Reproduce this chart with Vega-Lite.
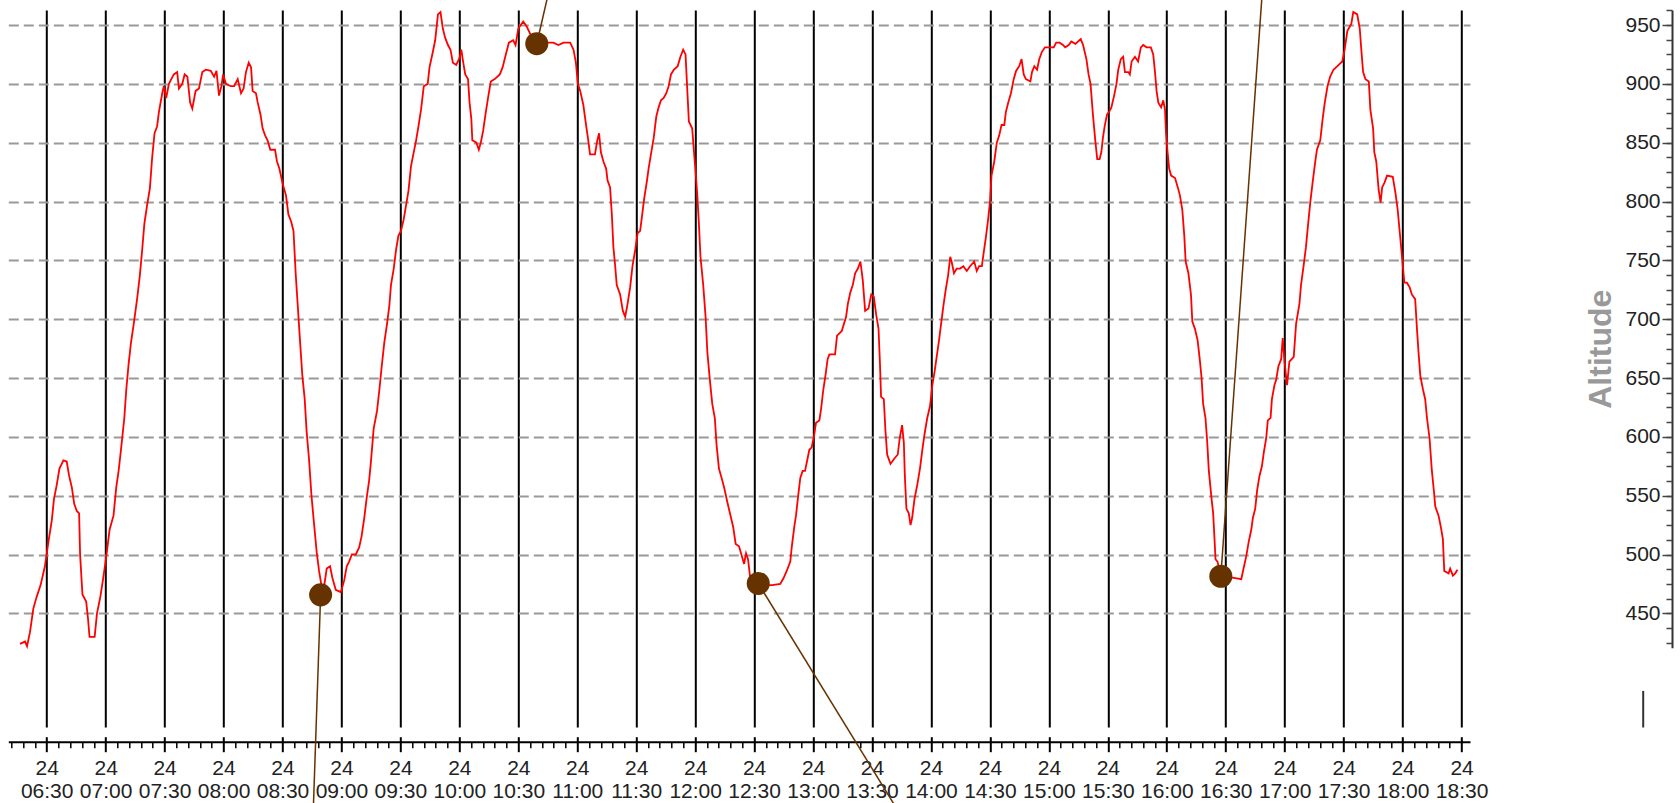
{
"$schema": "https://vega.github.io/schema/vega-lite/v6.json",
"autosize": {"type": "none"},
"width": 1461.7,
"height": 717,
"padding": {"left": 8.3, "top": 10, "right": 210, "bottom": 76},
"background": "white",
"config": {"view": {"stroke": null}, "axis": {"labelFont": "Liberation Sans", "titleFont": "Liberation Sans"}},
"datasets": {
"track": [
{"t":"2020-05-24T06:16:24","alt":424},{"t":"2020-05-24T06:19:00","alt":426},{"t":"2020-05-24T06:20:00","alt":422},{"t":"2020-05-24T06:21:30","alt":434},{"t":"2020-05-24T06:23:12","alt":454},{"t":"2020-05-24T06:24:54","alt":464},{"t":"2020-05-24T06:26:54","alt":474},{"t":"2020-05-24T06:29:06","alt":490},{"t":"2020-05-24T06:30:54","alt":511},{"t":"2020-05-24T06:32:36","alt":529},{"t":"2020-05-24T06:33:42","alt":547},{"t":"2020-05-24T06:35:06","alt":559},{"t":"2020-05-24T06:36:30","alt":573},{"t":"2020-05-24T06:38:30","alt":580},{"t":"2020-05-24T06:40:12","alt":579},{"t":"2020-05-24T06:41:24","alt":567},{"t":"2020-05-24T06:42:48","alt":557},{"t":"2020-05-24T06:44:00","alt":543},{"t":"2020-05-24T06:45:18","alt":537},{"t":"2020-05-24T06:46:30","alt":535},{"t":"2020-05-24T06:47:00","alt":500},{"t":"2020-05-24T06:48:12","alt":466},{"t":"2020-05-24T06:50:06","alt":460},{"t":"2020-05-24T06:51:00","alt":446},{"t":"2020-05-24T06:51:48","alt":430},{"t":"2020-05-24T06:54:24","alt":430},{"t":"2020-05-24T06:55:36","alt":450},{"t":"2020-05-24T06:57:18","alt":464},{"t":"2020-05-24T06:58:36","alt":478},{"t":"2020-05-24T07:00:18","alt":498},{"t":"2020-05-24T07:02:00","alt":521},{"t":"2020-05-24T07:04:00","alt":533},{"t":"2020-05-24T07:05:24","alt":557},{"t":"2020-05-24T07:06:36","alt":571},{"t":"2020-05-24T07:07:48","alt":589},{"t":"2020-05-24T07:09:30","alt":616},{"t":"2020-05-24T07:10:30","alt":640},{"t":"2020-05-24T07:11:42","alt":662},{"t":"2020-05-24T07:12:54","alt":680},{"t":"2020-05-24T07:14:18","alt":696},{"t":"2020-05-24T07:16:00","alt":717},{"t":"2020-05-24T07:17:24","alt":737},{"t":"2020-05-24T07:18:36","alt":759},{"t":"2020-05-24T07:19:42","alt":781},{"t":"2020-05-24T07:21:06","alt":797},{"t":"2020-05-24T07:22:30","alt":811},{"t":"2020-05-24T07:23:42","alt":838},{"t":"2020-05-24T07:24:54","alt":858},{"t":"2020-05-24T07:26:12","alt":864},{"t":"2020-05-24T07:27:06","alt":876},{"t":"2020-05-24T07:28:48","alt":892},{"t":"2020-05-24T07:29:36","alt":898},{"t":"2020-05-24T07:30:48","alt":888},{"t":"2020-05-24T07:32:12","alt":900},{"t":"2020-05-24T07:33:24","alt":904},{"t":"2020-05-24T07:34:42","alt":908},{"t":"2020-05-24T07:36:24","alt":910},{"t":"2020-05-24T07:37:18","alt":896},{"t":"2020-05-24T07:39:00","alt":900},{"t":"2020-05-24T07:40:12","alt":908},{"t":"2020-05-24T07:41:36","alt":906},{"t":"2020-05-24T07:43:00","alt":884},{"t":"2020-05-24T07:44:06","alt":879},{"t":"2020-05-24T07:45:48","alt":894},{"t":"2020-05-24T07:47:30","alt":896},{"t":"2020-05-24T07:49:12","alt":910},{"t":"2020-05-24T07:51:00","alt":912},{"t":"2020-05-24T07:53:30","alt":911},{"t":"2020-05-24T07:55:12","alt":906},{"t":"2020-05-24T07:56:24","alt":911},{"t":"2020-05-24T07:57:42","alt":890},{"t":"2020-05-24T07:58:54","alt":898},{"t":"2020-05-24T07:59:48","alt":908},{"t":"2020-05-24T08:01:12","alt":900},{"t":"2020-05-24T08:03:42","alt":898},{"t":"2020-05-24T08:05:24","alt":898},{"t":"2020-05-24T08:07:12","alt":904},{"t":"2020-05-24T08:08:54","alt":892},{"t":"2020-05-24T08:10:12","alt":896},{"t":"2020-05-24T08:11:24","alt":910},{"t":"2020-05-24T08:12:48","alt":918},{"t":"2020-05-24T08:14:00","alt":914},{"t":"2020-05-24T08:14:48","alt":894},{"t":"2020-05-24T08:16:30","alt":892},{"t":"2020-05-24T08:17:24","alt":884},{"t":"2020-05-24T08:18:48","alt":874},{"t":"2020-05-24T08:19:54","alt":862},{"t":"2020-05-24T08:21:12","alt":856},{"t":"2020-05-24T08:22:24","alt":852},{"t":"2020-05-24T08:23:48","alt":844},{"t":"2020-05-24T08:26:12","alt":844},{"t":"2020-05-24T08:27:12","alt":834},{"t":"2020-05-24T08:28:24","alt":828},{"t":"2020-05-24T08:30:06","alt":815},{"t":"2020-05-24T08:31:48","alt":805},{"t":"2020-05-24T08:33:00","alt":789},{"t":"2020-05-24T08:34:24","alt":783},{"t":"2020-05-24T08:35:36","alt":775},
{"t":"2020-05-24T08:36:42","alt":739},{"t":"2020-05-24T08:37:54","alt":708},{"t":"2020-05-24T08:38:54","alt":682},{"t":"2020-05-24T08:40:06","alt":652},{"t":"2020-05-24T08:41:18","alt":632},{"t":"2020-05-24T08:42:18","alt":604},{"t":"2020-05-24T08:43:30","alt":581},{"t":"2020-05-24T08:44:42","alt":551},{"t":"2020-05-24T08:46:00","alt":527},{"t":"2020-05-24T08:47:24","alt":502},{"t":"2020-05-24T08:48:36","alt":486},{"t":"2020-05-24T08:49:48","alt":474},{"t":"2020-05-24T08:51:06","alt":472},{"t":"2020-05-24T08:52:30","alt":488},{"t":"2020-05-24T08:54:12","alt":490},{"t":"2020-05-24T08:55:24","alt":480},{"t":"2020-05-24T08:57:06","alt":470},{"t":"2020-05-24T08:59:42","alt":468},{"t":"2020-05-24T09:01:24","alt":478},{"t":"2020-05-24T09:02:42","alt":490},{"t":"2020-05-24T09:03:54","alt":494},{"t":"2020-05-24T09:05:18","alt":500},{"t":"2020-05-24T09:07:18","alt":500},{"t":"2020-05-24T09:09:00","alt":506},{"t":"2020-05-24T09:10:12","alt":515},{"t":"2020-05-24T09:11:36","alt":531},{"t":"2020-05-24T09:12:54","alt":549},{"t":"2020-05-24T09:14:06","alt":563},{"t":"2020-05-24T09:15:00","alt":579},{"t":"2020-05-24T09:16:24","alt":607},{"t":"2020-05-24T09:18:06","alt":622},{"t":"2020-05-24T09:19:18","alt":640},{"t":"2020-05-24T09:20:30","alt":660},{"t":"2020-05-24T09:21:48","alt":680},{"t":"2020-05-24T09:23:12","alt":696},{"t":"2020-05-24T09:24:24","alt":712},{"t":"2020-05-24T09:25:12","alt":729},{"t":"2020-05-24T09:26:36","alt":743},{"t":"2020-05-24T09:27:48","alt":759},{"t":"2020-05-24T09:29:00","alt":771},{"t":"2020-05-24T09:30:18","alt":775},{"t":"2020-05-24T09:31:42","alt":785},{"t":"2020-05-24T09:32:54","alt":797},{"t":"2020-05-24T09:34:06","alt":809},{"t":"2020-05-24T09:35:24","alt":830},{"t":"2020-05-24T09:36:48","alt":842},{"t":"2020-05-24T09:38:00","alt":852},{"t":"2020-05-24T09:39:12","alt":864},{"t":"2020-05-24T09:40:30","alt":878},{"t":"2020-05-24T09:41:54","alt":898},{"t":"2020-05-24T09:43:54","alt":900},{"t":"2020-05-24T09:44:48","alt":914},{"t":"2020-05-24T09:46:30","alt":927},{"t":"2020-05-24T09:47:42","alt":937},{"t":"2020-05-24T09:49:06","alt":959},{"t":"2020-05-24T09:50:24","alt":961},{"t":"2020-05-24T09:51:36","alt":947},{"t":"2020-05-24T09:52:48","alt":939},{"t":"2020-05-24T09:54:12","alt":933},{"t":"2020-05-24T09:55:30","alt":929},{"t":"2020-05-24T09:56:42","alt":918},{"t":"2020-05-24T09:58:24","alt":916},{"t":"2020-05-24T10:00:06","alt":922},{"t":"2020-05-24T10:01:00","alt":929},{"t":"2020-05-24T10:01:48","alt":920},{"t":"2020-05-24T10:03:00","alt":908},{"t":"2020-05-24T10:04:24","alt":904},{"t":"2020-05-24T10:05:12","alt":884},{"t":"2020-05-24T10:06:06","alt":870},{"t":"2020-05-24T10:06:36","alt":852},{"t":"2020-05-24T10:08:42","alt":850},{"t":"2020-05-24T10:09:54","alt":844},{"t":"2020-05-24T10:10:54","alt":850},{"t":"2020-05-24T10:12:06","alt":860},{"t":"2020-05-24T10:13:18","alt":874},{"t":"2020-05-24T10:14:36","alt":888},{"t":"2020-05-24T10:16:00","alt":902},{"t":"2020-05-24T10:18:00","alt":904},{"t":"2020-05-24T10:20:36","alt":908},{"t":"2020-05-24T10:22:00","alt":914},{"t":"2020-05-24T10:23:12","alt":922},{"t":"2020-05-24T10:25:12","alt":935},{"t":"2020-05-24T10:27:24","alt":937},{"t":"2020-05-24T10:28:36","alt":933},{"t":"2020-05-24T10:30:00","alt":947},{"t":"2020-05-24T10:32:30","alt":953},{"t":"2020-05-24T10:34:12","alt":949},{"t":"2020-05-24T10:35:54","alt":943},{"t":"2020-05-24T10:38:00","alt":936},{"t":"2020-05-24T10:40:12","alt":935},{"t":"2020-05-24T10:47:48","alt":935},{"t":"2020-05-24T10:50:24","alt":933},{"t":"2020-05-24T10:53:00","alt":935},{"t":"2020-05-24T10:56:24","alt":935},{"t":"2020-05-24T10:58:06","alt":929},{"t":"2020-05-24T10:59:18","alt":918},{"t":"2020-05-24T11:00:18","alt":900},{"t":"2020-05-24T11:01:30","alt":894},
{"t":"2020-05-24T11:03:06","alt":882},{"t":"2020-05-24T11:04:24","alt":866},{"t":"2020-05-24T11:05:36","alt":852},{"t":"2020-05-24T11:06:30","alt":840},{"t":"2020-05-24T11:09:00","alt":840},{"t":"2020-05-24T11:10:12","alt":852},{"t":"2020-05-24T11:11:06","alt":858},{"t":"2020-05-24T11:12:00","alt":842},{"t":"2020-05-24T11:13:18","alt":834},{"t":"2020-05-24T11:14:42","alt":828},{"t":"2020-05-24T11:15:24","alt":818},{"t":"2020-05-24T11:16:42","alt":812},{"t":"2020-05-24T11:17:36","alt":789},{"t":"2020-05-24T11:18:24","alt":761},{"t":"2020-05-24T11:19:18","alt":745},{"t":"2020-05-24T11:20:06","alt":729},{"t":"2020-05-24T11:21:48","alt":721},{"t":"2020-05-24T11:23:12","alt":707},{"t":"2020-05-24T11:24:24","alt":702},{"t":"2020-05-24T11:25:36","alt":713},{"t":"2020-05-24T11:26:54","alt":727},{"t":"2020-05-24T11:28:06","alt":745},{"t":"2020-05-24T11:29:30","alt":759},{"t":"2020-05-24T11:30:42","alt":773},{"t":"2020-05-24T11:32:00","alt":775},{"t":"2020-05-24T11:32:54","alt":787},{"t":"2020-05-24T11:34:06","alt":803},{"t":"2020-05-24T11:35:30","alt":818},{"t":"2020-05-24T11:36:18","alt":828},{"t":"2020-05-24T11:37:30","alt":840},{"t":"2020-05-24T11:38:54","alt":854},{"t":"2020-05-24T11:40:12","alt":872},{"t":"2020-05-24T11:41:24","alt":880},{"t":"2020-05-24T11:42:36","alt":886},{"t":"2020-05-24T11:44:00","alt":888},{"t":"2020-05-24T11:45:18","alt":892},{"t":"2020-05-24T11:46:30","alt":898},{"t":"2020-05-24T11:47:42","alt":908},{"t":"2020-05-24T11:49:06","alt":912},{"t":"2020-05-24T11:51:06","alt":915},{"t":"2020-05-24T11:52:30","alt":923},{"t":"2020-05-24T11:53:54","alt":929},{"t":"2020-05-24T11:55:06","alt":925},{"t":"2020-05-24T11:55:54","alt":898},{"t":"2020-05-24T11:56:48","alt":868},{"t":"2020-05-24T11:58:30","alt":862},{"t":"2020-05-24T11:59:24","alt":842},{"t":"2020-05-24T12:00:12","alt":826},{"t":"2020-05-24T12:01:06","alt":805},{"t":"2020-05-24T12:01:54","alt":781},{"t":"2020-05-24T12:02:42","alt":753},{"t":"2020-05-24T12:04:06","alt":729},{"t":"2020-05-24T12:05:18","alt":702},{"t":"2020-05-24T12:06:12","alt":672},{"t":"2020-05-24T12:07:30","alt":648},{"t":"2020-05-24T12:08:42","alt":628},{"t":"2020-05-24T12:10:00","alt":616},{"t":"2020-05-24T12:10:54","alt":593},{"t":"2020-05-24T12:12:06","alt":573},{"t":"2020-05-24T12:13:48","alt":563},{"t":"2020-05-24T12:15:00","alt":555},{"t":"2020-05-24T12:16:18","alt":545},{"t":"2020-05-24T12:17:42","alt":535},{"t":"2020-05-24T12:19:24","alt":523},{"t":"2020-05-24T12:20:36","alt":509},{"t":"2020-05-24T12:22:18","alt":507},{"t":"2020-05-24T12:23:42","alt":499},{"t":"2020-05-24T12:24:54","alt":492},{"t":"2020-05-24T12:25:54","alt":501},{"t":"2020-05-24T12:26:54","alt":496},{"t":"2020-05-24T12:28:00","alt":480},{"t":"2020-05-24T12:30:00","alt":475},{"t":"2020-05-24T12:32:06","alt":475},{"t":"2020-05-24T12:36:00","alt":474},{"t":"2020-05-24T12:39:18","alt":474},{"t":"2020-05-24T12:43:18","alt":475},{"t":"2020-05-24T12:45:00","alt":480},{"t":"2020-05-24T12:46:36","alt":486},{"t":"2020-05-24T12:48:24","alt":494},{"t":"2020-05-24T12:49:12","alt":507},{"t":"2020-05-24T12:50:24","alt":523},{"t":"2020-05-24T12:51:18","alt":533},{"t":"2020-05-24T12:52:30","alt":551},{"t":"2020-05-24T12:53:30","alt":565},{"t":"2020-05-24T12:54:42","alt":571},{"t":"2020-05-24T12:55:54","alt":571},{"t":"2020-05-24T12:56:54","alt":579},{"t":"2020-05-24T12:58:06","alt":589},{"t":"2020-05-24T12:59:18","alt":591},{"t":"2020-05-24T13:00:36","alt":602},{"t":"2020-05-24T13:01:30","alt":612},{"t":"2020-05-24T13:03:12","alt":614},{"t":"2020-05-24T13:04:06","alt":624},{"t":"2020-05-24T13:05:12","alt":640},{"t":"2020-05-24T13:06:18","alt":652},{"t":"2020-05-24T13:07:24","alt":666},{"t":"2020-05-24T13:08:18","alt":670},{"t":"2020-05-24T13:11:12","alt":670},{"t":"2020-05-24T13:12:12","alt":686},{"t":"2020-05-24T13:13:24","alt":688},{"t":"2020-05-24T13:14:36","alt":690},{"t":"2020-05-24T13:15:42","alt":696},{"t":"2020-05-24T13:16:48","alt":702},{"t":"2020-05-24T13:17:42","alt":713},{"t":"2020-05-24T13:19:00","alt":723},{"t":"2020-05-24T13:20:12","alt":729},{"t":"2020-05-24T13:21:24","alt":739},{"t":"2020-05-24T13:22:48","alt":743},{"t":"2020-05-24T13:24:06","alt":749},{"t":"2020-05-24T13:25:18","alt":733},{"t":"2020-05-24T13:26:30","alt":707},{"t":"2020-05-24T13:28:12","alt":709},{"t":"2020-05-24T13:29:36","alt":721},{"t":"2020-05-24T13:30:54","alt":719},{"t":"2020-05-24T13:32:06","alt":704},{"t":"2020-05-24T13:33:18","alt":692},{"t":"2020-05-24T13:34:00","alt":664},{"t":"2020-05-24T13:34:36","alt":634},{"t":"2020-05-24T13:36:00","alt":632},{"t":"2020-05-24T13:36:48","alt":606},{"t":"2020-05-24T13:37:42","alt":585},{"t":"2020-05-24T13:39:24","alt":577},{"t":"2020-05-24T13:41:06","alt":581},{"t":"2020-05-24T13:43:06","alt":585},{"t":"2020-05-24T13:44:06","alt":599},{"t":"2020-05-24T13:45:18","alt":610},{"t":"2020-05-24T13:46:12","alt":595},{"t":"2020-05-24T13:46:42","alt":567},{"t":"2020-05-24T13:47:30","alt":539},{"t":"2020-05-24T13:48:42","alt":535},{"t":"2020-05-24T13:49:36","alt":525},{"t":"2020-05-24T13:50:24","alt":531},{"t":"2020-05-24T13:51:36","alt":547},{"t":"2020-05-24T13:53:00","alt":559},{"t":"2020-05-24T13:54:24","alt":573},{"t":"2020-05-24T13:55:36","alt":589},{"t":"2020-05-24T13:56:42","alt":602},{"t":"2020-05-24T13:58:06","alt":616},{"t":"2020-05-24T13:59:30","alt":626},{"t":"2020-05-24T14:00:42","alt":644},{"t":"2020-05-24T14:01:54","alt":656},{"t":"2020-05-24T14:02:54","alt":668},{"t":"2020-05-24T14:04:06","alt":682},{"t":"2020-05-24T14:05:00","alt":694},{"t":"2020-05-24T14:06:18","alt":711},{"t":"2020-05-24T14:07:30","alt":725},{"t":"2020-05-24T14:08:42","alt":737},{"t":"2020-05-24T14:09:48","alt":753},{"t":"2020-05-24T14:10:30","alt":749},{"t":"2020-05-24T14:11:42","alt":739},{"t":"2020-05-24T14:13:06","alt":743},{"t":"2020-05-24T14:14:48","alt":743},{"t":"2020-05-24T14:16:30","alt":745},{"t":"2020-05-24T14:18:12","alt":741},{"t":"2020-05-24T14:19:54","alt":745},{"t":"2020-05-24T14:22:00","alt":749},{"t":"2020-05-24T14:23:18","alt":741},{"t":"2020-05-24T14:24:30","alt":745},{"t":"2020-05-24T14:25:54","alt":745},{"t":"2020-05-24T14:26:42","alt":755},{"t":"2020-05-24T14:27:54","alt":769},{"t":"2020-05-24T14:29:06","alt":785},{"t":"2020-05-24T14:30:06","alt":801},{"t":"2020-05-24T14:30:48","alt":822},{"t":"2020-05-24T14:32:12","alt":834},{"t":"2020-05-24T14:33:30","alt":850},{"t":"2020-05-24T14:34:42","alt":856},{"t":"2020-05-24T14:35:54","alt":865},{"t":"2020-05-24T14:37:18","alt":865},{"t":"2020-05-24T14:38:06","alt":876},{"t":"2020-05-24T14:39:18","alt":884},{"t":"2020-05-24T14:40:42","alt":892},{"t":"2020-05-24T14:42:06","alt":904},{"t":"2020-05-24T14:43:18","alt":911},{"t":"2020-05-24T14:44:54","alt":915},{"t":"2020-05-24T14:46:06","alt":921},{"t":"2020-05-24T14:47:12","alt":908},{"t":"2020-05-24T14:48:18","alt":904},{"t":"2020-05-24T14:50:36","alt":902},{"t":"2020-05-24T14:51:24","alt":910},{"t":"2020-05-24T14:52:36","alt":915},{"t":"2020-05-24T14:54:00","alt":912},{"t":"2020-05-24T14:55:06","alt":921},{"t":"2020-05-24T14:56:24","alt":927},{"t":"2020-05-24T14:58:00","alt":931},{"t":"2020-05-24T15:00:18","alt":931},{"t":"2020-05-24T15:02:30","alt":931},{"t":"2020-05-24T15:03:42","alt":935},{"t":"2020-05-24T15:05:24","alt":935},{"t":"2020-05-24T15:07:12","alt":933},{"t":"2020-05-24T15:08:18","alt":931},{"t":"2020-05-24T15:10:06","alt":933},{"t":"2020-05-24T15:11:24","alt":936},{"t":"2020-05-24T15:13:30","alt":934},{"t":"2020-05-24T15:16:12","alt":938},{"t":"2020-05-24T15:17:24","alt":933},{"t":"2020-05-24T15:19:06","alt":921},{"t":"2020-05-24T15:20:12","alt":908},{"t":"2020-05-24T15:21:12","alt":900},{"t":"2020-05-24T15:22:24","alt":874},{"t":"2020-05-24T15:23:36","alt":852},{"t":"2020-05-24T15:24:36","alt":836},{"t":"2020-05-24T15:25:48","alt":836},{"t":"2020-05-24T15:26:42","alt":842},{"t":"2020-05-24T15:27:30","alt":854},{"t":"2020-05-24T15:28:24","alt":864},{"t":"2020-05-24T15:29:36","alt":874},{"t":"2020-05-24T15:30:36","alt":876},{"t":"2020-05-24T15:31:48","alt":880},{"t":"2020-05-24T15:33:12","alt":890},{"t":"2020-05-24T15:34:24","alt":900},{"t":"2020-05-24T15:35:18","alt":912},{"t":"2020-05-24T15:36:36","alt":921},{"t":"2020-05-24T15:37:48","alt":923},{"t":"2020-05-24T15:38:42","alt":910},{"t":"2020-05-24T15:40:24","alt":910},{"t":"2020-05-24T15:41:12","alt":908},{"t":"2020-05-24T15:42:06","alt":919},{"t":"2020-05-24T15:43:48","alt":923},{"t":"2020-05-24T15:45:24","alt":919},{"t":"2020-05-24T15:46:48","alt":931},{"t":"2020-05-24T15:48:00","alt":933},{"t":"2020-05-24T15:49:42","alt":931},{"t":"2020-05-24T15:51:54","alt":931},{"t":"2020-05-24T15:53:06","alt":925},{"t":"2020-05-24T15:54:00","alt":910},{"t":"2020-05-24T15:54:48","alt":894},{"t":"2020-05-24T15:55:42","alt":884},{"t":"2020-05-24T15:57:06","alt":880},{"t":"2020-05-24T15:58:12","alt":886},{"t":"2020-05-24T15:59:06","alt":878},{"t":"2020-05-24T15:59:36","alt":858},{"t":"2020-05-24T16:00:24","alt":842},{"t":"2020-05-24T16:01:12","alt":828},{"t":"2020-05-24T16:02:12","alt":822},{"t":"2020-05-24T16:04:12","alt":820},{"t":"2020-05-24T16:05:36","alt":812},{"t":"2020-05-24T16:06:42","alt":805},{"t":"2020-05-24T16:07:54","alt":793},{"t":"2020-05-24T16:08:54","alt":771},{"t":"2020-05-24T16:09:36","alt":749},{"t":"2020-05-24T16:11:00","alt":739},{"t":"2020-05-24T16:12:18","alt":721},{"t":"2020-05-24T16:13:00","alt":698},{"t":"2020-05-24T16:14:18","alt":692},{"t":"2020-05-24T16:15:42","alt":682},{"t":"2020-05-24T16:16:54","alt":664},{"t":"2020-05-24T16:17:42","alt":650},{"t":"2020-05-24T16:18:30","alt":628},{"t":"2020-05-24T16:19:42","alt":616},{"t":"2020-05-24T16:20:36","alt":595},{"t":"2020-05-24T16:21:24","alt":571},{"t":"2020-05-24T16:22:48","alt":547},{"t":"2020-05-24T16:23:36","alt":535},{"t":"2020-05-24T16:24:06","alt":519},{"t":"2020-05-24T16:24:48","alt":496},{"t":"2020-05-24T16:25:48","alt":494},{"t":"2020-05-24T16:27:30","alt":482},{"t":"2020-05-24T16:31:00","alt":481},{"t":"2020-05-24T16:34:54","alt":480},{"t":"2020-05-24T16:37:54","alt":479},{"t":"2020-05-24T16:39:18","alt":490},{"t":"2020-05-24T16:40:30","alt":499},{"t":"2020-05-24T16:41:42","alt":511},{"t":"2020-05-24T16:43:00","alt":521},{"t":"2020-05-24T16:43:48","alt":531},{"t":"2020-05-24T16:45:00","alt":539},{"t":"2020-05-24T16:46:00","alt":555},{"t":"2020-05-24T16:47:12","alt":567},{"t":"2020-05-24T16:48:24","alt":575},{"t":"2020-05-24T16:49:24","alt":587},{"t":"2020-05-24T16:50:36","alt":599},{"t":"2020-05-24T16:51:24","alt":614},{"t":"2020-05-24T16:52:48","alt":616},{"t":"2020-05-24T16:53:30","alt":632},{"t":"2020-05-24T16:54:48","alt":644},{"t":"2020-05-24T16:55:36","alt":648},{"t":"2020-05-24T16:56:48","alt":660},{"t":"2020-05-24T16:58:12","alt":666},{"t":"2020-05-24T16:59:00","alt":684},{"t":"2020-05-24T16:59:54","alt":664},{"t":"2020-05-24T17:01:12","alt":644},{"t":"2020-05-24T17:02:24","alt":664},{"t":"2020-05-24T17:04:36","alt":668},{"t":"2020-05-24T17:05:48","alt":696},{"t":"2020-05-24T17:07:30","alt":713},{"t":"2020-05-24T17:08:18","alt":729},{"t":"2020-05-24T17:09:36","alt":745},{"t":"2020-05-24T17:10:48","alt":761},{"t":"2020-05-24T17:11:42","alt":777},{"t":"2020-05-24T17:13:00","alt":799},{"t":"2020-05-24T17:14:12","alt":816},{"t":"2020-05-24T17:15:24","alt":832},{"t":"2020-05-24T17:16:24","alt":844},{"t":"2020-05-24T17:18:06","alt":852},{"t":"2020-05-24T17:19:18","alt":870},{"t":"2020-05-24T17:20:24","alt":884},{"t":"2020-05-24T17:21:48","alt":898},{"t":"2020-05-24T17:23:06","alt":906},{"t":"2020-05-24T17:24:48","alt":912},{"t":"2020-05-24T17:26:48","alt":915},{"t":"2020-05-24T17:29:18","alt":919},{"t":"2020-05-24T17:30:30","alt":929},{"t":"2020-05-24T17:31:54","alt":945},{"t":"2020-05-24T17:33:54","alt":951},{"t":"2020-05-24T17:34:54","alt":961},{"t":"2020-05-24T17:36:54","alt":959},{"t":"2020-05-24T17:38:12","alt":947},{"t":"2020-05-24T17:38:54","alt":931},{"t":"2020-05-24T17:39:54","alt":910},{"t":"2020-05-24T17:41:06","alt":904},{"t":"2020-05-24T17:42:48","alt":902},{"t":"2020-05-24T17:43:36","alt":878},{"t":"2020-05-24T17:45:00","alt":862},{"t":"2020-05-24T17:45:36","alt":842},{"t":"2020-05-24T17:46:36","alt":834},{"t":"2020-05-24T17:47:48","alt":810},{"t":"2020-05-24T17:48:48","alt":799},{"t":"2020-05-24T17:49:36","alt":812},{"t":"2020-05-24T17:50:48","alt":816},{"t":"2020-05-24T17:52:06","alt":822},{"t":"2020-05-24T17:55:00","alt":821},{"t":"2020-05-24T17:56:24","alt":807},{"t":"2020-05-24T17:57:30","alt":793},{"t":"2020-05-24T17:58:36","alt":773},{"t":"2020-05-24T17:59:42","alt":753},{"t":"2020-05-24T18:00:54","alt":731},{"t":"2020-05-24T18:02:12","alt":731},{"t":"2020-05-24T18:03:36","alt":727},{"t":"2020-05-24T18:04:42","alt":721},{"t":"2020-05-24T18:06:24","alt":717},{"t":"2020-05-24T18:07:18","alt":692},{"t":"2020-05-24T18:08:06","alt":672},{"t":"2020-05-24T18:09:00","alt":652},{"t":"2020-05-24T18:10:24","alt":640},{"t":"2020-05-24T18:11:30","alt":632},{"t":"2020-05-24T18:12:24","alt":616},{"t":"2020-05-24T18:13:42","alt":599},{"t":"2020-05-24T18:14:54","alt":571},{"t":"2020-05-24T18:16:06","alt":551},{"t":"2020-05-24T18:16:36","alt":541},{"t":"2020-05-24T18:18:18","alt":533},{"t":"2020-05-24T18:19:30","alt":523},{"t":"2020-05-24T18:20:30","alt":513},{"t":"2020-05-24T18:21:12","alt":486},{"t":"2020-05-24T18:23:24","alt":484},{"t":"2020-05-24T18:24:12","alt":488},{"t":"2020-05-24T18:25:36","alt":482},{"t":"2020-05-24T18:26:48","alt":484},{"t":"2020-05-24T18:27:54","alt":487}
],
"waypoints": [
{"t":"2020-05-24T08:49:24","alt":465.7,"t2":"2020-05-24T08:45:00","alt2":250},
{"t":"2020-05-24T10:39:24","alt":934.1,"t2":"2020-05-24T10:47:06","alt2":990},
{"t":"2020-05-24T12:32:06","alt":475.4,"t2":"2020-05-24T13:55:06","alt2":250},
{"t":"2020-05-24T16:27:30","alt":481.5,"t2":"2020-05-24T16:49:06","alt2":990}
]
},
"resolve": {"axis": {"x": "independent", "y": "independent"}},
"layer": [
{
"data": {"name": "track"},
"mark": {"type": "line", "color": "#ff0000", "strokeWidth": 1.8},
"encoding": {
"x": {"field": "t", "type": "temporal",
"scale": {"type": "time", "nice": false, "domain": [{"year": 2020, "month": 5, "date": 24, "hours": 6, "minutes": 10, "seconds": 28}, {"year": 2020, "month": 5, "date": 24, "hours": 18, "minutes": 34, "seconds": 18}]},
"axis": {"orient": "bottom", "offset": 14.7, "title": null, "tickCount": 25,
"grid": true, "gridColor": "#000000", "gridWidth": 2, "gridOpacity": 1,
"domain": true, "domainColor": "#000000", "domainWidth": 2,
"ticks": true, "tickSize": 10, "tickColor": "#000000", "tickWidth": 2,
"labelExpr": "[timeFormat(datum.value, '%d'), timeFormat(datum.value, '%H:%M')]",
"labelFontSize": 21, "labelLineHeight": 23.4, "labelPadding": 5.5, "labelColor": "#222222",
"labelOverlap": false, "labelFlush": false}},
"y": {"field": "alt", "type": "quantitative",
"scale": {"domain": [353.4, 962.75], "nice": false, "zero": false},
"axis": {"orient": "left", "offset": -1663.7, "values": [450, 500, 550, 600, 650, 700, 750, 800, 850, 900, 950],
"title": "Altitude", "titleFontSize": 32, "titleFontWeight": "bold", "titleColor": "#999999",
"titleX": -71.3, "titleY": 338.7, "titleBaseline": "middle", "titleAlign": "center",
"grid": true, "gridColor": "#999999", "gridDash": [10, 5], "gridWidth": 2, "gridOpacity": 1,
"domain": true, "domainColor": "#333333", "domainWidth": 2, "domainDash": [637.7, 2000], "domainDashOffset": 2558.4,
"tickSize": 10, "tickColor": "#444444", "tickWidth": 1.5,
"labelFontSize": 21, "labelPadding": 2, "labelColor": "#222222", "labelOverlap": false, "labelFlush": false}}
}
},
{
"data": {"name": "waypoints"},
"mark": {"type": "rule", "color": "#663300", "strokeWidth": 1.5},
"encoding": {
"x": {"field": "t", "type": "temporal",
"axis": {"orient": "bottom", "offset": 14.7, "title": null, "tickCount": 25, "grid": false, "domain": false, "labels": false,
"ticks": true, "tickSize": -5, "tickColor": "#000000", "tickWidth": 2}},
"x2": {"field": "t2"},
"y": {"field": "alt", "type": "quantitative",
"axis": {"orient": "left", "offset": -1634.4, "title": null, "grid": false, "labels": false, "ticks": false,
"domain": true, "domainColor": "#333333", "domainWidth": 2, "domainDash": [36.6, 2000]}},
"y2": {"field": "alt2"}
}
},
{
"data": {"name": "waypoints"},
"mark": {"type": "circle", "size": 531, "color": "#663300", "opacity": 1},
"encoding": {
"x": {"field": "t", "type": "temporal",
"axis": {"orient": "bottom", "offset": 14.7, "title": null, "grid": false, "domain": false, "labels": false,
"ticks": true, "tickSize": 6, "tickColor": "#000000", "tickWidth": 1.5,
"values": [
{"year":2020,"month":5,"date":24,"hours":6,"minutes":12},{"year":2020,"month":5,"date":24,"hours":6,"minutes":18},{"year":2020,"month":5,"date":24,"hours":6,"minutes":24},{"year":2020,"month":5,"date":24,"hours":6,"minutes":36},{"year":2020,"month":5,"date":24,"hours":6,"minutes":42},{"year":2020,"month":5,"date":24,"hours":6,"minutes":48},{"year":2020,"month":5,"date":24,"hours":6,"minutes":54},
{"year":2020,"month":5,"date":24,"hours":7,"minutes":6},{"year":2020,"month":5,"date":24,"hours":7,"minutes":12},{"year":2020,"month":5,"date":24,"hours":7,"minutes":18},{"year":2020,"month":5,"date":24,"hours":7,"minutes":24},{"year":2020,"month":5,"date":24,"hours":7,"minutes":36},{"year":2020,"month":5,"date":24,"hours":7,"minutes":42},{"year":2020,"month":5,"date":24,"hours":7,"minutes":48},{"year":2020,"month":5,"date":24,"hours":7,"minutes":54},
{"year":2020,"month":5,"date":24,"hours":8,"minutes":6},{"year":2020,"month":5,"date":24,"hours":8,"minutes":12},{"year":2020,"month":5,"date":24,"hours":8,"minutes":18},{"year":2020,"month":5,"date":24,"hours":8,"minutes":24},{"year":2020,"month":5,"date":24,"hours":8,"minutes":36},{"year":2020,"month":5,"date":24,"hours":8,"minutes":42},{"year":2020,"month":5,"date":24,"hours":8,"minutes":48},{"year":2020,"month":5,"date":24,"hours":8,"minutes":54},
{"year":2020,"month":5,"date":24,"hours":9,"minutes":6},{"year":2020,"month":5,"date":24,"hours":9,"minutes":12},{"year":2020,"month":5,"date":24,"hours":9,"minutes":18},{"year":2020,"month":5,"date":24,"hours":9,"minutes":24},{"year":2020,"month":5,"date":24,"hours":9,"minutes":36},{"year":2020,"month":5,"date":24,"hours":9,"minutes":42},{"year":2020,"month":5,"date":24,"hours":9,"minutes":48},{"year":2020,"month":5,"date":24,"hours":9,"minutes":54},
{"year":2020,"month":5,"date":24,"hours":10,"minutes":6},{"year":2020,"month":5,"date":24,"hours":10,"minutes":12},{"year":2020,"month":5,"date":24,"hours":10,"minutes":18},{"year":2020,"month":5,"date":24,"hours":10,"minutes":24},{"year":2020,"month":5,"date":24,"hours":10,"minutes":36},{"year":2020,"month":5,"date":24,"hours":10,"minutes":42},{"year":2020,"month":5,"date":24,"hours":10,"minutes":48},{"year":2020,"month":5,"date":24,"hours":10,"minutes":54},
{"year":2020,"month":5,"date":24,"hours":11,"minutes":6},{"year":2020,"month":5,"date":24,"hours":11,"minutes":12},{"year":2020,"month":5,"date":24,"hours":11,"minutes":18},{"year":2020,"month":5,"date":24,"hours":11,"minutes":24},{"year":2020,"month":5,"date":24,"hours":11,"minutes":36},{"year":2020,"month":5,"date":24,"hours":11,"minutes":42},{"year":2020,"month":5,"date":24,"hours":11,"minutes":48},{"year":2020,"month":5,"date":24,"hours":11,"minutes":54},
{"year":2020,"month":5,"date":24,"hours":12,"minutes":6},{"year":2020,"month":5,"date":24,"hours":12,"minutes":12},{"year":2020,"month":5,"date":24,"hours":12,"minutes":18},{"year":2020,"month":5,"date":24,"hours":12,"minutes":24},{"year":2020,"month":5,"date":24,"hours":12,"minutes":36},{"year":2020,"month":5,"date":24,"hours":12,"minutes":42},{"year":2020,"month":5,"date":24,"hours":12,"minutes":48},{"year":2020,"month":5,"date":24,"hours":12,"minutes":54},
{"year":2020,"month":5,"date":24,"hours":13,"minutes":6},{"year":2020,"month":5,"date":24,"hours":13,"minutes":12},{"year":2020,"month":5,"date":24,"hours":13,"minutes":18},{"year":2020,"month":5,"date":24,"hours":13,"minutes":24},{"year":2020,"month":5,"date":24,"hours":13,"minutes":36},{"year":2020,"month":5,"date":24,"hours":13,"minutes":42},{"year":2020,"month":5,"date":24,"hours":13,"minutes":48},{"year":2020,"month":5,"date":24,"hours":13,"minutes":54},
{"year":2020,"month":5,"date":24,"hours":14,"minutes":6},{"year":2020,"month":5,"date":24,"hours":14,"minutes":12},{"year":2020,"month":5,"date":24,"hours":14,"minutes":18},{"year":2020,"month":5,"date":24,"hours":14,"minutes":24},{"year":2020,"month":5,"date":24,"hours":14,"minutes":36},{"year":2020,"month":5,"date":24,"hours":14,"minutes":42},{"year":2020,"month":5,"date":24,"hours":14,"minutes":48},{"year":2020,"month":5,"date":24,"hours":14,"minutes":54},
{"year":2020,"month":5,"date":24,"hours":15,"minutes":6},{"year":2020,"month":5,"date":24,"hours":15,"minutes":12},{"year":2020,"month":5,"date":24,"hours":15,"minutes":18},{"year":2020,"month":5,"date":24,"hours":15,"minutes":24},{"year":2020,"month":5,"date":24,"hours":15,"minutes":36},{"year":2020,"month":5,"date":24,"hours":15,"minutes":42},{"year":2020,"month":5,"date":24,"hours":15,"minutes":48},{"year":2020,"month":5,"date":24,"hours":15,"minutes":54},
{"year":2020,"month":5,"date":24,"hours":16,"minutes":6},{"year":2020,"month":5,"date":24,"hours":16,"minutes":12},{"year":2020,"month":5,"date":24,"hours":16,"minutes":18},{"year":2020,"month":5,"date":24,"hours":16,"minutes":24},{"year":2020,"month":5,"date":24,"hours":16,"minutes":36},{"year":2020,"month":5,"date":24,"hours":16,"minutes":42},{"year":2020,"month":5,"date":24,"hours":16,"minutes":48},{"year":2020,"month":5,"date":24,"hours":16,"minutes":54},
{"year":2020,"month":5,"date":24,"hours":17,"minutes":6},{"year":2020,"month":5,"date":24,"hours":17,"minutes":12},{"year":2020,"month":5,"date":24,"hours":17,"minutes":18},{"year":2020,"month":5,"date":24,"hours":17,"minutes":24},{"year":2020,"month":5,"date":24,"hours":17,"minutes":36},{"year":2020,"month":5,"date":24,"hours":17,"minutes":42},{"year":2020,"month":5,"date":24,"hours":17,"minutes":48},{"year":2020,"month":5,"date":24,"hours":17,"minutes":54},
{"year":2020,"month":5,"date":24,"hours":18,"minutes":6},{"year":2020,"month":5,"date":24,"hours":18,"minutes":12},{"year":2020,"month":5,"date":24,"hours":18,"minutes":18},{"year":2020,"month":5,"date":24,"hours":18,"minutes":24}
]}},
"y": {"field": "alt", "type": "quantitative",
"axis": {"orient": "left", "offset": -1663.7, "title": null,
"values": [425, 437.5, 450, 462.5, 475, 487.5, 500, 512.5, 525, 537.5, 550, 562.5, 575, 587.5, 600, 612.5, 625, 637.5, 650, 662.5, 675, 687.5, 700, 712.5, 725, 737.5, 750, 762.5, 775, 787.5, 800, 812.5, 825, 837.5, 850, 862.5, 875, 887.5, 900, 912.5, 925, 937.5, 950, 962.5],
"grid": false, "domain": false, "labels": false, "ticks": true, "tickSize": 6, "tickColor": "#444444", "tickWidth": 1.5}}
}
}
]
}
